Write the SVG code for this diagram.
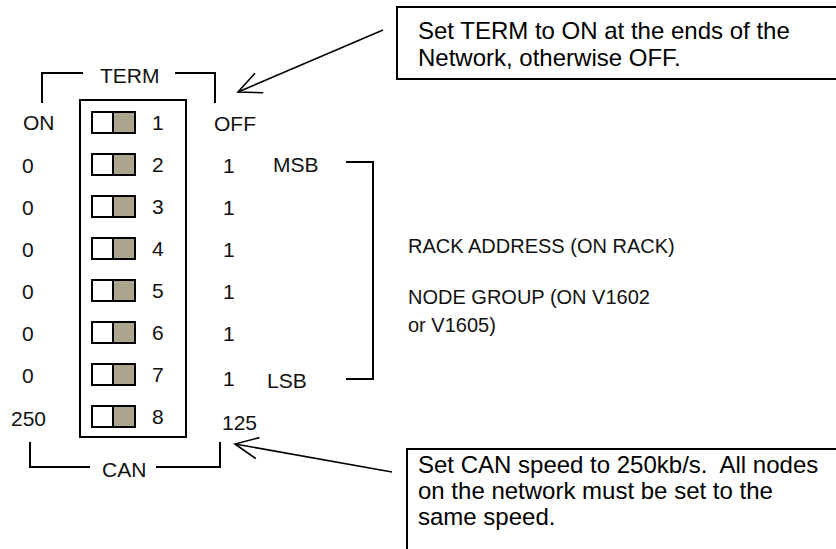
<svg xmlns="http://www.w3.org/2000/svg" width="836" height="549" viewBox="0 0 836 549">
<style>
.ln{fill:none;stroke:#000;stroke-width:2}
.sw{stroke:#000;stroke-width:2}
.off{fill:#fff}
.on{fill:#aba58e}
.lbl{font-family:"Liberation Sans",Arial,sans-serif;font-size:21px;fill:#111}
.sm{font-family:"Liberation Sans",Arial,sans-serif;font-size:20px;fill:#111}
.call{font-family:"Liberation Sans",Arial,sans-serif;font-size:24px;fill:#000;white-space:pre}
.box{fill:#fff;stroke:#000;stroke-width:2}
.arr{fill:none;stroke:#000;stroke-width:1.6}
</style>
<defs>
<marker id="ah" markerUnits="userSpaceOnUse" markerWidth="26" markerHeight="24" viewBox="0 0 26 24" refX="24" refY="12" orient="auto">
<path d="M1,1.4 L24,12 L1,22.6" fill="none" stroke="#000" stroke-width="1.6"/>
</marker>
</defs>
<g id="term">
<polyline class="ln" points="42,103 42,73 83,73"/>
<polyline class="ln" points="175,73 215,73 215,103"/>
<text class="lbl" x="100" y="83">TERM</text>
</g>
<g id="can">
<polyline class="ln" points="30,442 30,467 90,467"/>
<polyline class="ln" points="156,467 220,467 220,442"/>
<text class="lbl" x="102" y="477">CAN</text>
</g>
<g id="dip">
<rect class="ln" x="80" y="100" width="106" height="337"/>
<g id="sw1"><rect class="sw off" x="92" y="112" width="21" height="21"/><rect class="sw on" x="113" y="112" width="22" height="21"/><text class="lbl" x="152" y="130">1</text></g>
<g id="sw2"><rect class="sw off" x="92" y="154" width="21" height="21"/><rect class="sw on" x="113" y="154" width="22" height="21"/><text class="lbl" x="152" y="172">2</text></g>
<g id="sw3"><rect class="sw off" x="92" y="196" width="21" height="21"/><rect class="sw on" x="113" y="196" width="22" height="21"/><text class="lbl" x="152" y="214">3</text></g>
<g id="sw4"><rect class="sw off" x="92" y="238" width="21" height="21"/><rect class="sw on" x="113" y="238" width="22" height="21"/><text class="lbl" x="152" y="256">4</text></g>
<g id="sw5"><rect class="sw off" x="92" y="280" width="21" height="21"/><rect class="sw on" x="113" y="280" width="22" height="21"/><text class="lbl" x="152" y="298">5</text></g>
<g id="sw6"><rect class="sw off" x="92" y="322" width="21" height="21"/><rect class="sw on" x="113" y="322" width="22" height="21"/><text class="lbl" x="152" y="340">6</text></g>
<g id="sw7"><rect class="sw off" x="92" y="364" width="21" height="21"/><rect class="sw on" x="113" y="364" width="22" height="21"/><text class="lbl" x="152" y="382">7</text></g>
<g id="sw8"><rect class="sw off" x="92" y="406" width="21" height="21"/><rect class="sw on" x="113" y="406" width="22" height="21"/><text class="lbl" x="152" y="424">8</text></g>
</g>
<g id="left-values">
<text class="lbl" x="23" y="130">ON</text>
<text class="lbl" x="22" y="173">0</text>
<text class="lbl" x="22" y="215">0</text>
<text class="lbl" x="22" y="257">0</text>
<text class="lbl" x="22" y="299">0</text>
<text class="lbl" x="22" y="341">0</text>
<text class="lbl" x="22" y="383">0</text>
<text class="lbl" x="11" y="426">250</text>
</g>
<g id="right-values">
<text class="lbl" x="214" y="131">OFF</text>
<text class="lbl" x="223" y="173">1</text>
<text class="lbl" x="223" y="215">1</text>
<text class="lbl" x="223" y="257">1</text>
<text class="lbl" x="223" y="299">1</text>
<text class="lbl" x="223" y="341">1</text>
<text class="lbl" x="223" y="386">1</text>
<text class="lbl" x="222" y="430">125</text>
<text class="lbl" x="273" y="172">MSB</text>
<text class="lbl" x="267" y="388">LSB</text>
</g>
<g id="rack">
<polyline class="ln" points="346,162 373,162 373,379 346,379"/>
<text class="sm" x="408" y="253">RACK ADDRESS (ON RACK)</text>
<text class="sm" x="408" y="304">NODE GROUP (ON V1602</text>
<text class="sm" x="408" y="332">or V1605)</text>
</g>
<g id="note-term">
<rect class="box" x="397" y="7" width="450" height="72"/>
<text class="call" x="418" y="39">Set TERM to ON at the ends of the</text>
<text class="call" x="418" y="66">Network, otherwise OFF.</text>
</g>
<g id="note-can">
<rect class="box" x="407" y="449" width="450" height="120"/>
<text class="call" x="418" y="473">Set CAN speed to 250kb/s.  All nodes</text>
<text class="call" x="418" y="499">on the network must be set to the</text>
<text class="call" x="418" y="525">same speed.</text>
</g>
<g id="connectors">
<line class="arr" x1="383" y1="30" x2="238" y2="92" marker-end="url(#ah)"/>
<line class="arr" x1="392" y1="472" x2="235" y2="444" marker-end="url(#ah)"/>
</g>
</svg>
